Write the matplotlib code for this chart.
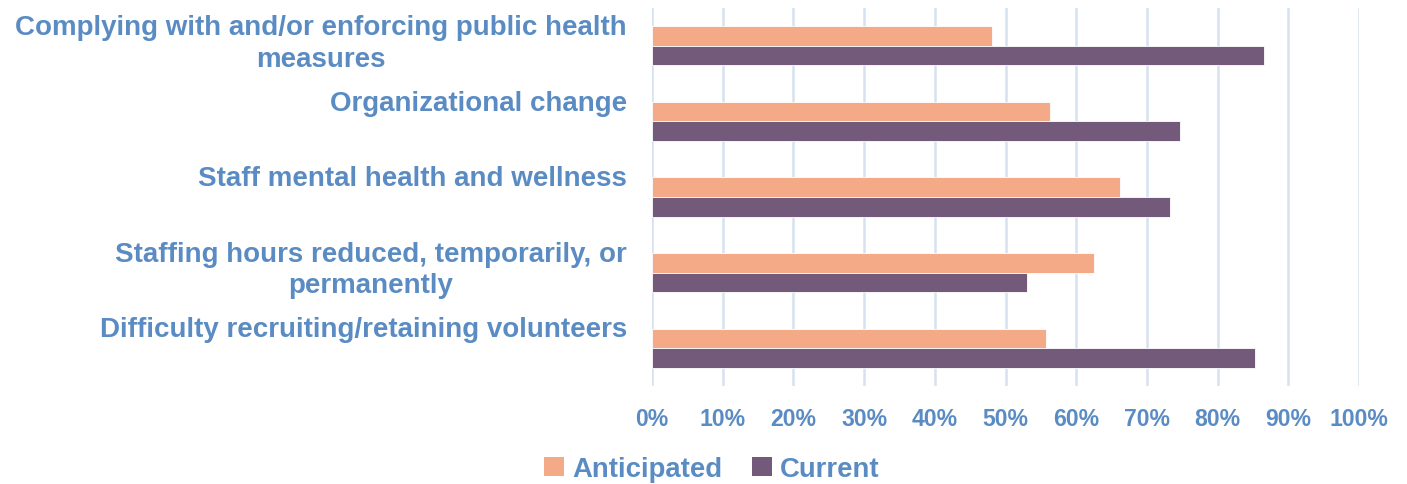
import matplotlib
matplotlib.use("Agg")
import matplotlib.pyplot as plt
import matplotlib.transforms as mtransforms
import numpy as np
from matplotlib.patches import Patch

categories = [
    "Complying with and/or enforcing public health\nmeasures",
    "Organizational change",
    "Staff mental health and wellness",
    "Staffing hours reduced, temporarily, or\npermanently",
    "Difficulty recruiting/retaining volunteers",
]
anticipated = [48.1, 56.3, 66.2, 62.5, 55.7]
current = [86.6, 74.7, 73.3, 53.1, 85.3]
xticks = [0, 10, 20, 30, 40, 50, 60, 70, 80, 90, 100]
series_names = ["Anticipated", "Current"]

TEXT = "#5A8CC3"
ORANGE = "#F4AA86"
PURPLE = "#735A7B"
GRID = "#D6E2EF"

plt.rcParams['font.family'] = ['Liberation Sans', 'DejaVu Sans']

fig = plt.figure(figsize=(14.07, 4.85), dpi=100)
ax = fig.add_axes([652/1407, 1 - 387/485, (1359-652)/1407, (387-9)/485])

y = np.arange(len(categories))
h = 0.258
ax.barh(y - h/2, anticipated, height=h, color=ORANGE, edgecolor="white", linewidth=0.6, zorder=3)
ax.barh(y + h/2, current, height=h, color=PURPLE, edgecolor="white", linewidth=0.6, zorder=3)

ax.set_ylim(len(categories) - 0.5, -0.5)
ax.set_xlim(0, 100)
ax.set_xticks(xticks)
ax.set_xticklabels([f"{t}%" for t in xticks], fontsize=16.6, fontweight="bold", color=TEXT)
ax.tick_params(axis="x", length=0, pad=15)
ax.set_yticks([])
for s in ax.spines.values():
    s.set_visible(False)
ax.grid(axis="x", color=GRID, linewidth=1.8, zorder=0)
ax.set_axisbelow(True)

trans = mtransforms.blended_transform_factory(ax.transAxes, ax.transData)
offset = mtransforms.ScaledTranslation(-25/100, 0, fig.dpi_scale_trans)
for i, lab in enumerate(categories):
    ax.text(0, i - 0.42, lab, transform=trans + offset, ha="right", va="top",
            multialignment="center", fontsize=20, fontweight="bold", color=TEXT,
            linespacing=1.28)

handles = [Patch(facecolor=ORANGE, edgecolor="none"), Patch(facecolor=PURPLE, edgecolor="none")]
leg = fig.legend(handles, series_names, loc="center", bbox_to_anchor=(712/1407, 1 - 470/485),
                 ncol=2, frameon=False, handlelength=0.7, handleheight=0.7, handletextpad=0.3,
                 columnspacing=1.1, prop={"weight": "bold", "size": 19.8})
for t in leg.get_texts():
    t.set_color(TEXT)

fig.savefig("out.png", dpi=100)
